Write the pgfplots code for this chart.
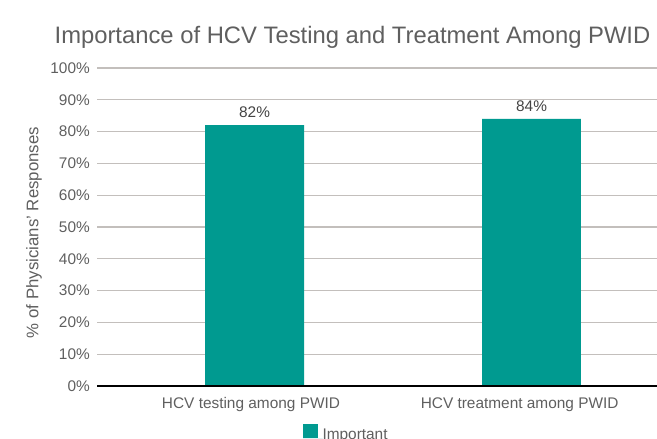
\documentclass[border=0pt]{standalone}
\usepackage{fontspec}
\setmainfont{Liberation Sans}
\usepackage{pgfplots}
\pgfplotsset{compat=1.18}
\definecolor{teal1}{HTML}{009A90}
\definecolor{grid1}{HTML}{C3BFBC}
\definecolor{txt}{HTML}{5F5F5F}
\definecolor{lab}{HTML}{444444}
\newcommand{\f}{\fontsize{15.4bp}{18bp}\selectfont}
\begin{document}
\begin{tikzpicture}
\begin{axis}[
  at={(0,0)}, anchor=south west,
  scale only axis, width=560bp, height=318bp,
  xmin=-0.569, xmax=1.453, ymin=0, ymax=100,
  axis line style={draw=none},
  ymajorgrids, grid style={grid1, line width=1.1bp},
  major tick length=0pt,
  ytick={0,10,...,100},
  yticklabel={\pgfmathprintnumber{\tick}\%},
  /pgf/number format/assume math mode=true,
  yticklabel style={font=\f, text=txt, anchor=east, inner sep=0pt, xshift=-7bp},
  xtick={-0.013,0.957},
  xticklabels={HCV testing among PWID, HCV treatment among PWID},
  xticklabel style={font=\f, text=txt, anchor=base, inner sep=0pt, yshift=-22.5bp},
  legend style={at={(axis description cs:0.3679,-0.1195)}, anchor=north west,
    draw=none, inner sep=0pt, outer sep=0pt, font=\f, text=txt,
    nodes={inner sep=0pt}, legend cell align=left},
  legend image code/.code={\fill[teal1] (0bp,0bp) rectangle (15bp,14bp); \path (0bp,0bp) -- (19.5bp,0bp);},
  clip=false,
]
\addplot[ybar, bar width=0.357, fill=teal1, draw=none,
  nodes near coords={\pgfmathprintnumber{\pgfplotspointmeta}\%},
  nodes near coords style={font=\f, text=lab, fill=white, inner xsep=3bp, inner ysep=1bp, anchor=south, yshift=6bp}]
  coordinates {(0,82) (1,84)};
\addlegendentry{\raisebox{6bp}{Important}}
\draw[black, line width=1.4bp] (axis cs:-0.569,0) -- (axis cs:1.453,0);
\end{axis}
\node[anchor=base, font=\fontsize{23.8bp}{28bp}\selectfont, text=txt] at (255.5bp,342bp) {Importance of HCV Testing and Treatment Among PWID};
\node[rotate=90, font=\fontsize{16.8bp}{19bp}\selectfont, text=txt] at (-63bp,153.5bp) {\% of Physicians' Responses};
\pgfresetboundingbox
\path[use as bounding box] (-97bp,-53bp) rectangle (560bp,386bp);
\end{tikzpicture}
\end{document}
